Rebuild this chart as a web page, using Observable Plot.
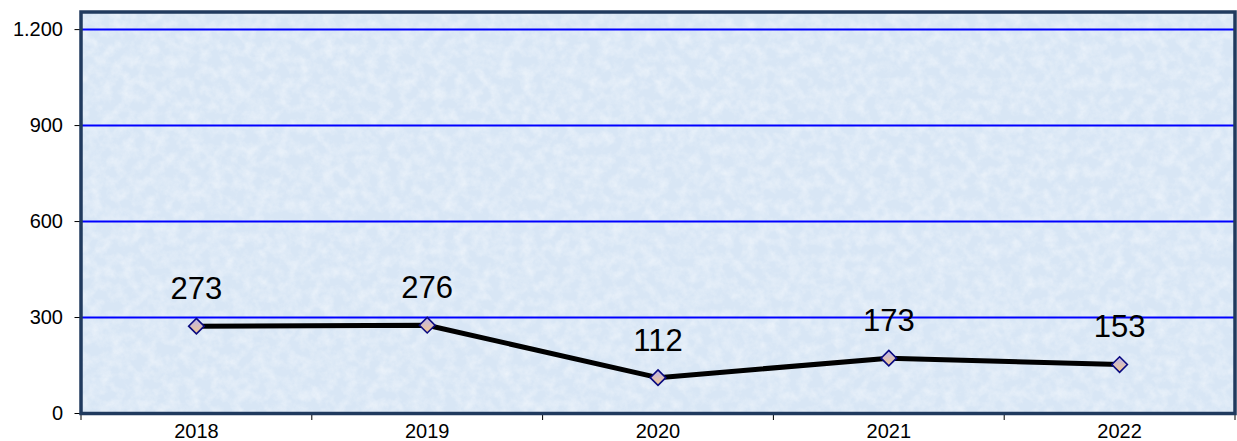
<!DOCTYPE html>
<html>
<head>
<meta charset="utf-8">
<script src="https://cdn.jsdelivr.net/npm/d3@7"></script>
<script src="https://cdn.jsdelivr.net/npm/@observablehq/plot@0.6"></script>
<style>
  html, body { margin: 0; padding: 0; background: #ffffff; }
  #chart svg { display: block; }
</style>
</head>
<body>
<svg width="0" height="0" style="position:absolute">
  <defs>
    <linearGradient id="mk" x1="0" y1="0" x2="0" y2="1">
      <stop offset="0%" stop-color="#b9b3f0"/>
      <stop offset="100%" stop-color="#f7c98a"/>
    </linearGradient>
    <filter id="tex" x="0" y="0" width="1" height="1">
      <feTurbulence type="fractalNoise" baseFrequency="0.09" numOctaves="4" seed="7" result="n"/>
      <feColorMatrix in="n" type="matrix"
        values="0 0 0 0 1
                0 0 0 0 1
                0 0 0 0 1
                1.4 0 0 0 -0.5" result="w"/>
      <feComposite in="w" in2="SourceGraphic" operator="in"/>
    </filter>
  </defs>
</svg>
<div id="chart"></div>
<script>
const years = [2018, 2019, 2020, 2021, 2022];
const values = [273, 276, 112, 173, 153];
const yTicks = [0, 300, 600, 900, 1200];

const data = years.map((year, i) => ({year, value: values[i]}));
const boundaries = [years[0] - 0.5, ...years.map(y => y + 0.5)];
const de = d3.formatLocale({decimal: ",", thousands: ".", grouping: [3], currency: ["", " €"]}).format(",");

const chart = Plot.plot({
  width: 1237,
  height: 441,
  marginTop: 11.5,
  marginBottom: 28,
  marginLeft: 80.5,
  marginRight: 2.5,
  style: {fontFamily: "'Liberation Sans', Arial, sans-serif", color: "#000", background: "#fff"},
  x: {domain: [years[0] - 0.5, years[years.length - 1] + 0.5]},
  y: {domain: [0, 1255]},
  marks: [
    Plot.frame({fill: "#d8e6f5", stroke: null}),
    Plot.ruleY(yTicks.filter(d => d > 0), {stroke: "#0000ff", strokeWidth: 2}),
    Plot.line(data, {x: "year", y: "value", stroke: "#000", strokeWidth: 5}),
    Plot.dot(data, {x: "year", y: "value", symbol: "diamond2", r: 7, fill: "url(#mk)", stroke: "#0a0a80", strokeWidth: 1.6}),
    Plot.text(data, {x: "year", y: "value", text: d => String(d.value), dy: -37, fontSize: 31, fill: "#000"}),
    Plot.axisY({ticks: yTicks, tickFormat: de, tickSize: 6, tickPadding: 12, fontSize: 20, label: null}),
    Plot.axisX({ticks: years, tickFormat: d => String(d), tickSize: 0, tickPadding: 10, fontSize: 20, label: null}),
    Plot.axisX({ticks: boundaries, tickFormat: () => "", tickSize: 7, label: null}),
    Plot.frame({stroke: "#203a5e", strokeWidth: 3.5, fill: null})
  ]
});
document.getElementById("chart").appendChild(chart);

// subtle texture over the plot background
const frame = chart.querySelector('[aria-label="frame"]');
if (frame) {
  const clone = frame.cloneNode(true);
  clone.querySelectorAll("rect").forEach(r => { r.setAttribute("fill", "#ffffff"); r.setAttribute("filter", "url(#tex)"); });
  clone.setAttribute("fill", "#ffffff");
  clone.setAttribute("filter", "url(#tex)");
  clone.setAttribute("opacity", "0.6");
  frame.parentNode.insertBefore(clone, frame.nextSibling);
}
</script>
</body>
</html>
